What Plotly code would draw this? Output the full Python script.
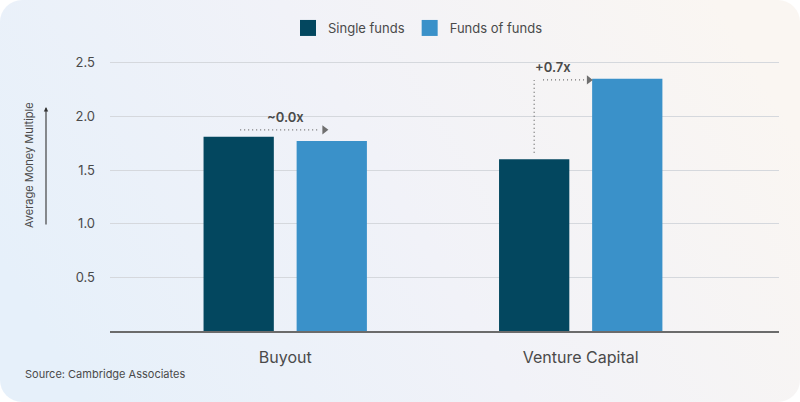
import base64
import plotly.graph_objects as go

# ---- data ----
categories = ["Buyout", "Venture Capital"]
single_funds = [1.81, 1.60]
funds_of_funds = [1.77, 2.35]
diff_labels = ["~0.0x", "+0.7x"]
y_ticks = [0.5, 1.0, 1.5, 2.0, 2.5]

W, H = 800, 402
ML, MR, MT, MB = 110, 21, 52, 71
PW, PH = W - ML - MR, H - MT - MB

DARK = "#03475f"
LIGHT = "#3a91c9"
TXT = "#4a4a4a"
ARR = "#6f6f6f"
FONT = "Inter, 'DejaVu Sans', sans-serif"

BARGAP = 0.37
SLOT = (1 - BARGAP) / 2  # width of one bar slot in category units

xpos = list(range(len(categories)))

fig = go.Figure()
fig.add_trace(go.Bar(x=xpos, y=single_funds, name="Single funds",
                     marker=dict(color=DARK, line=dict(width=0)), showlegend=False))
fig.add_trace(go.Bar(x=xpos, y=funds_of_funds, name="Funds of funds",
                     marker=dict(color=LIGHT, line=dict(width=0)), showlegend=False))

# legend proxies (bigger squares)
for nm, col in [("Single funds", DARK), ("Funds of funds", LIGHT)]:
    fig.add_trace(go.Scatter(x=[None], y=[None], mode="markers", name=nm,
                             marker=dict(symbol="square", size=16, color=col),
                             showlegend=True))

# ---- difference arrows ----
def dotted(xs, ys):
    fig.add_trace(go.Scatter(x=xs, y=ys, mode="lines", showlegend=False,
                             hoverinfo="skip", cliponaxis=False,
                             line=dict(color=ARR, width=1.3, dash="1px,3px")))

def head(x, y):
    fig.add_trace(go.Scatter(x=[x], y=[y], mode="markers", showlegend=False,
                             hoverinfo="skip", cliponaxis=False,
                             marker=dict(symbol="triangle-right", size=8, color=ARR)))

LBL = dict(size=13, color=TXT, family=FONT, weight=600)

# Buyout (index 0): horizontal arrow above both bars
i = 0
yb = max(single_funds[i], funds_of_funds[i]) + 0.065
dotted([i - SLOT / 2 + 0.005, i + SLOT / 2 - 0.04], [yb, yb])
head(i + SLOT / 2 - 0.025, yb)
fig.add_annotation(x=i, y=yb + 0.12, text=diff_labels[i], showarrow=False,
                   xref="x", yref="y", font=LBL)

# Venture Capital (index 1): up then right
i = 1
x0 = i - SLOT / 2
yt = funds_of_funds[i] - 0.01
dotted([x0, x0], [single_funds[i] + 0.06, yt])
dotted([x0 + 0.03, i + SLOT / 2 - 0.145], [yt, yt])
head(i + SLOT / 2 - 0.13, yt)
fig.add_annotation(x=x0 + 0.063, y=yt + 0.12, text=diff_labels[i],
                   showarrow=False, xref="x", yref="y", font=LBL)

# ---- axis title with arrow ----
def px_x(p):
    return (p - ML) / PW

def px_y(p):
    return (H - MB - p) / PH

fig.add_annotation(x=px_x(29), y=px_y(165), xref="paper", yref="paper",
                   xanchor="center", yanchor="middle",
                   text="Average Money Multiple", textangle=-90, showarrow=False,
                   font=dict(size=11, color=TXT, family=FONT))
fig.add_annotation(x=px_x(46), y=px_y(107), xref="paper", yref="paper",
                   ax=0, ay=119, text="", showarrow=True, arrowhead=2,
                   arrowsize=0.8, arrowwidth=1.1, arrowcolor="#333333")

fig.add_annotation(x=px_x(23), y=px_y(374), xref="paper", yref="paper",
                   xanchor="left", yanchor="middle", text="Source: Cambridge Associates",
                   showarrow=False, font=dict(size=11, color=TXT, family=FONT))

# ---- background: rounded gradient card ----
svg = f'''<svg xmlns="http://www.w3.org/2000/svg" width="{W}" height="{H}" viewBox="0 0 {W} {H}">
<defs><linearGradient id="g" x1="0" y1="0.65" x2="1" y2="0.35">
<stop offset="0" stop-color="#e6f0fa"/>
<stop offset="0.5" stop-color="#f1f2f8"/>
<stop offset="1" stop-color="#faf6f2"/>
</linearGradient></defs>
<rect x="0" y="0" width="{W}" height="{H}" rx="22" ry="22" fill="url(#g)"/>
</svg>'''
src = "data:image/svg+xml;base64," + base64.b64encode(svg.encode()).decode()
fig.add_layout_image(source=src, xref="paper", yref="paper",
                     x=px_x(0), y=px_y(0), sizex=W / PW, sizey=H / PH,
                     xanchor="left", yanchor="top", sizing="stretch", layer="below")

fig.update_layout(
    width=W, height=H,
    margin=dict(l=ML, r=MR, t=MT, b=MB, pad=0),
    paper_bgcolor="white", plot_bgcolor="rgba(0,0,0,0)",
    barmode="group", bargap=BARGAP, bargroupgap=0.245,
    font=dict(family=FONT, color=TXT),
    legend=dict(orientation="h", x=px_x(418), xanchor="center", y=px_y(28), yanchor="middle",
                font=dict(size=13, color=TXT, family=FONT), bgcolor="rgba(0,0,0,0)"),
    xaxis=dict(range=[-0.593, 1.671], tickvals=xpos, ticktext=categories,
               showgrid=False, showline=True, linecolor="#6b6b6b", zeroline=False,
               linewidth=1.5, ticks="", tickfont=dict(size=16, color=TXT, family=FONT),
               ticklabelstandoff=11, fixedrange=True),
    yaxis=dict(range=[0, 2.6], tickvals=y_ticks, ticktext=[f"{v:.1f}" for v in y_ticks],
               showgrid=True, gridcolor="#d5d8dd", gridwidth=1, zeroline=False,
               showline=False, ticks="", tickfont=dict(size=13, color=TXT, family=FONT),
               ticklabelstandoff=14, fixedrange=True),
)

fig.write_html("out.html", config={"displayModeBar": False},
               post_script="document.body.style.margin='0';")
